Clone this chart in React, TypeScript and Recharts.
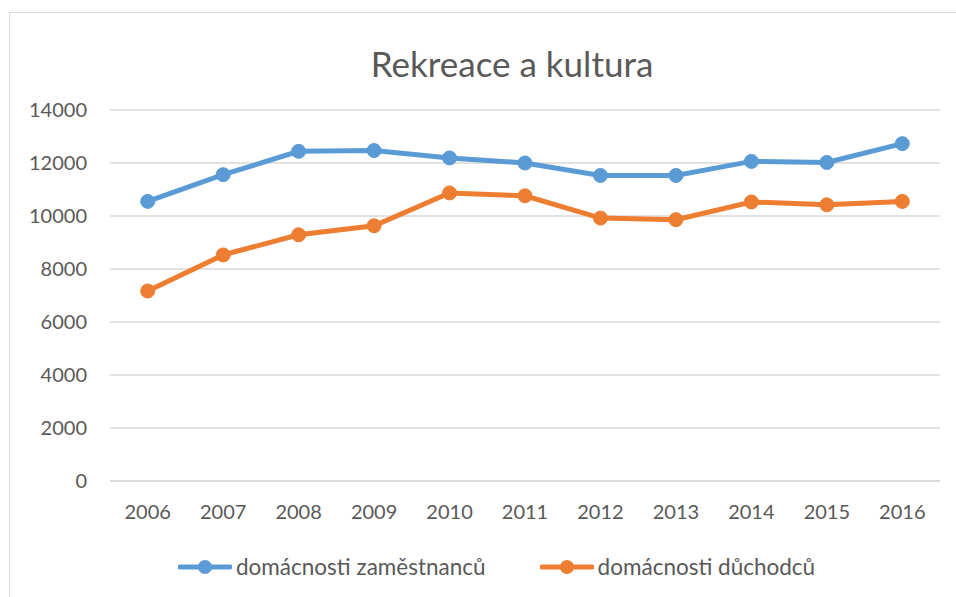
import React from "react";
import {
  LineChart,
  Line,
  XAxis,
  YAxis,
  CartesianGrid,
  Legend,
} from "recharts";

const years = ["2006", "2007", "2008", "2009", "2010", "2011", "2012", "2013", "2014", "2015", "2016"];
const zamestnanci = [10550, 11560, 12440, 12470, 12190, 12000, 11530, 11530, 12060, 12020, 12730];
const duchodci = [7170, 8530, 9290, 9630, 10870, 10760, 9920, 9860, 10530, 10420, 10550];
const yTicks = [0, 2000, 4000, 6000, 8000, 10000, 12000, 14000];
const seriesNames = ["domácnosti zaměstnanců", "domácnosti důchodců"];

const BLUE = "#5B9BD5";
const ORANGE = "#ED7D31";
const TEXT = "#595959";
const GRID = "#D9D9D9";
const FONT = "Lato, 'Open Sans', sans-serif";

const data = years.map((year, i) => ({
  year,
  zam: zamestnanci[i],
  duch: duchodci[i],
}));

// keep the legend in series order (recharts sorts it by name otherwise)
const LegendContent = (props: any) => {
  const items = [...(props.payload || [])].sort(
    (a: any, b: any) => seriesNames.indexOf(a.value) - seriesNames.indexOf(b.value)
  );
  return (
    <div style={{ display: "flex", alignItems: "center", fontFamily: FONT, fontSize: 22.5, color: TEXT }}>
      {items.map((entry: any, i: number) => (
        <div
          key={entry.value}
          style={{ display: "flex", alignItems: "center", marginLeft: i === 0 ? 0 : 54 }}
        >
          <svg width={54} height={16} style={{ marginRight: 4 }}>
            <line x1={2} y1={8} x2={52} y2={8} stroke={entry.color} strokeWidth={5} strokeLinecap="round" />
            <circle cx={27} cy={8} r={7} fill={entry.color} />
          </svg>
          <span>{entry.value}</span>
        </div>
      ))}
    </div>
  );
};

export default function App() {
  return (
    <div
      style={{
        position: "fixed",
        top: 0,
        left: 0,
        width: 956,
        height: 597,
        overflow: "hidden",
        background: "#fff",
      }}
    >
      <div
        style={{
          position: "absolute",
          left: 9,
          top: 12,
          width: 1000,
          height: 700,
          borderLeft: `1px solid ${GRID}`,
          borderTop: `1px solid ${GRID}`,
        }}
      />
      <div
        style={{
          position: "absolute",
          top: 42,
          left: 0,
          width: 1024,
          textAlign: "center",
          fontFamily: FONT,
          fontSize: 35,
          color: TEXT,
        }}
      >
        Rekreace a kultura
      </div>
      <div style={{ position: "absolute", top: 0, left: 0 }}>
        <LineChart
          width={956}
          height={597}
          data={data}
          margin={{ top: 110, right: 16, left: 0, bottom: 116 - 50 }}
        >
          <CartesianGrid vertical={false} stroke={GRID} strokeWidth={1.5} />
          <XAxis
            dataKey="year"
            padding={{ left: 37.7, right: 37.7 }}
            axisLine={{ stroke: GRID, strokeWidth: 1.5 }}
            tickLine={false}
            tickSize={0}
            tickMargin={24}
            height={50}
            tick={{ fill: TEXT, fontSize: 20, fontFamily: FONT }}
          />
          <YAxis
            domain={[0, 14000]}
            ticks={yTicks}
            interval={0}
            axisLine={false}
            tickLine={false}
            tickSize={0}
            tickMargin={23}
            width={110}
            tick={{ fill: TEXT, fontSize: 20, fontFamily: FONT }}
          />
          <Legend
            layout="vertical"
            verticalAlign="middle"
            align="center"
            content={<LegendContent />}
            wrapperStyle={{ top: 553, left: 178, width: 760 }}
          />
          <Line
            type="linear"
            dataKey="zam"
            name={seriesNames[0]}
            stroke={BLUE}
            strokeWidth={5}
            dot={{ r: 7, fill: BLUE, stroke: BLUE, strokeWidth: 1 }}
            activeDot={false}
            isAnimationActive={false}
          />
          <Line
            type="linear"
            dataKey="duch"
            name={seriesNames[1]}
            stroke={ORANGE}
            strokeWidth={5}
            dot={{ r: 7, fill: ORANGE, stroke: ORANGE, strokeWidth: 1 }}
            activeDot={false}
            isAnimationActive={false}
          />
        </LineChart>
      </div>
    </div>
  );
}
